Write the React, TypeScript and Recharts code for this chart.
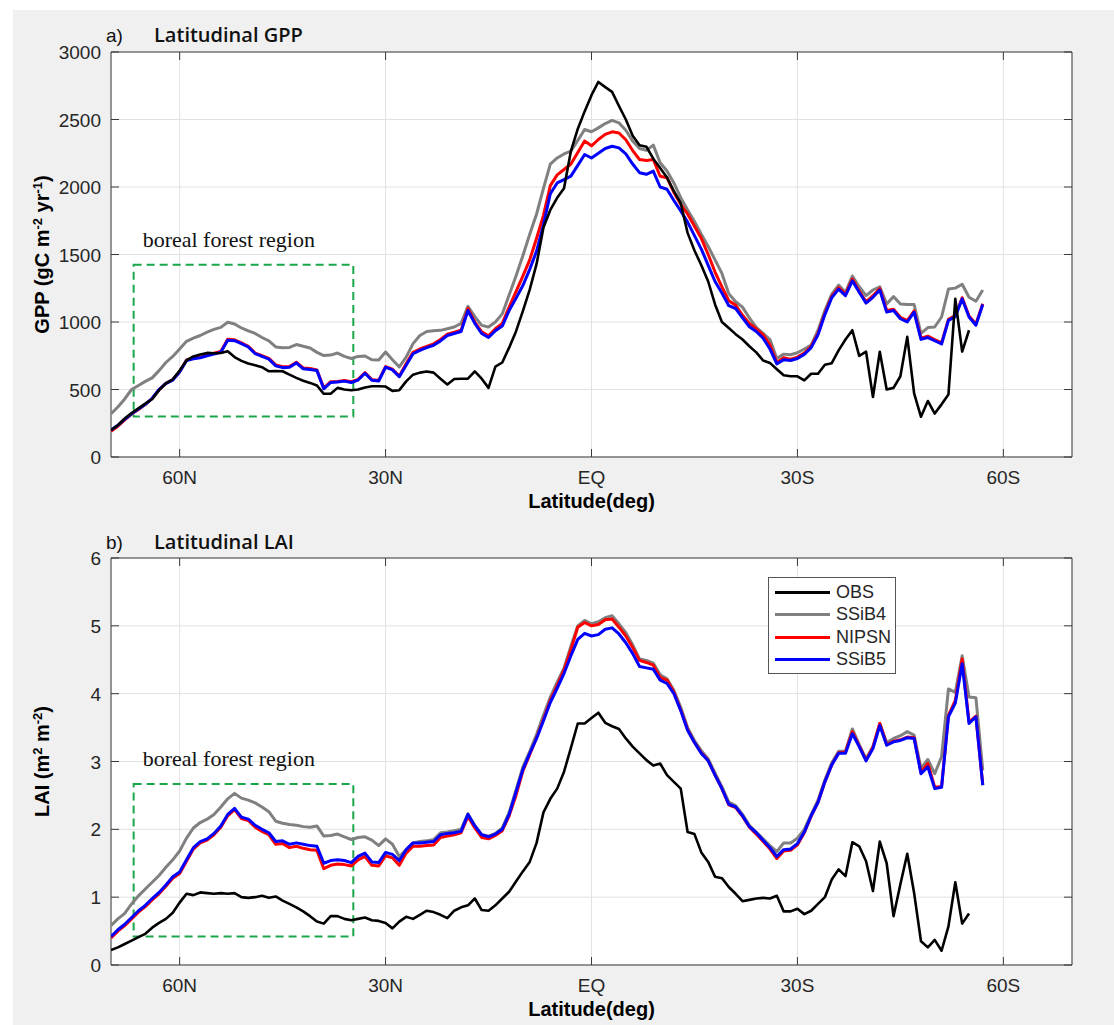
import React from 'react';
import {
  LineChart,
  Line,
  XAxis,
  YAxis,
  CartesianGrid,
  ReferenceArea,
  Legend,
} from 'recharts';

// latitude of every sample, north to south
const LAT = [
  70, 69, 68, 67, 66, 65, 64, 63, 62, 61,
  60, 59, 58, 57, 56, 55, 54, 53, 52, 51,
  50, 49, 48, 47, 46, 45, 44, 43, 42, 41,
  40, 39, 38, 37, 36, 35, 34, 33, 32, 31,
  30, 29, 28, 27, 26, 25, 24, 23, 22, 21,
  20, 19, 18, 17, 16, 15, 14, 13, 12, 11,
  10, 9, 8, 7, 6, 5, 4, 3, 2, 1,
  0, -1, -2, -3, -4, -5, -6, -7, -8, -9,
  -10, -11, -12, -13, -14, -15, -16, -17, -18, -19,
  -20, -21, -22, -23, -24, -25, -26, -27, -28, -29,
  -30, -31, -32, -33, -34, -35, -36, -37, -38, -39,
  -40, -41, -42, -43, -44, -45, -46, -47, -48, -49,
  -50, -51, -52, -53, -54, -55, -56, -57,
];

const LAT_TICKS = [60, 30, 0, -30, -60];

// ---- GPP (gC m-2 yr-1)
const GPP_OBS = [
  200, 235, 285, 325, 360, 395, 430, 495, 545, 575,
  640, 715, 745, 760, 771, 768, 770, 783, 740, 712,
  692, 680, 665, 635, 637, 635, 610, 586, 565, 549,
  530, 468, 468, 512, 500, 495, 500, 515, 524, 524,
  522, 490, 495, 560, 610, 625, 634, 625, 580, 537,
  578, 580, 580, 634, 580, 512, 670, 700, 810, 930,
  1080, 1240, 1430, 1700, 1830, 1920, 1990, 2266, 2430, 2560,
  2680, 2778, 2740, 2705, 2600, 2500, 2380, 2310, 2298, 2210,
  2140, 2070, 1970, 1880, 1660, 1530, 1420, 1300, 1130, 1000,
  955, 910, 870, 820, 775, 715, 697, 650, 605, 598,
  598, 568, 617, 617, 683, 695, 790, 870, 939, 749,
  780, 444, 780, 500, 512, 598, 890, 471, 298, 415,
  322, 390, 463, 1171, 780, 939, null, null,
];

const GPP_SSIB4 = [
  320, 370, 430, 500, 530, 560, 586, 640, 700, 745,
  800, 857, 880, 900, 925, 945, 960, 998, 985, 956,
  935, 915, 885, 860, 815, 810, 812, 833, 820, 808,
  775, 751, 755, 770, 745, 730, 745, 748, 720, 718,
  778, 720, 667, 740, 840, 900, 930, 935, 938, 950,
  963, 990, 1116, 1040, 975, 963, 1000, 1060, 1200, 1340,
  1490, 1650, 1800, 1990, 2170, 2215, 2245, 2266, 2345, 2426,
  2409, 2438, 2470, 2493, 2475, 2420, 2340, 2285, 2271, 2310,
  2180, 2118, 2030, 1921, 1830, 1745, 1650, 1560, 1460, 1360,
  1210, 1150, 1110, 1030, 960, 915, 870, 730, 762, 757,
  772, 800, 829, 939, 1085, 1207, 1273, 1220, 1341, 1261,
  1195, 1237, 1261, 1134, 1188, 1134, 1129, 1129, 915, 959,
  963, 1037, 1244, 1251, 1280, 1183, 1154, 1237,
];

const GPP_NIPSN = [
  190, 228, 275, 318, 352, 390, 432, 497, 545, 572,
  632, 718, 732, 740, 755, 768, 782, 872, 868, 846,
  820, 770, 750, 730, 682, 668, 670, 702, 660, 655,
  645, 510, 558, 560, 566, 558, 575, 625, 573, 568,
  670, 650, 600, 690, 775, 800, 820, 838, 870, 910,
  925, 940, 1100, 1000, 928, 898, 950, 990, 1110, 1225,
  1340, 1460, 1620, 1790, 2010, 2090, 2130, 2170, 2255, 2340,
  2305, 2352, 2390, 2409, 2400, 2350, 2270, 2204, 2197, 2204,
  2080, 2069, 1960, 1872, 1800, 1710, 1620, 1500, 1370, 1260,
  1158, 1125, 1050, 990, 950, 905, 830, 700, 735, 725,
  740, 770, 820, 915, 1065, 1190, 1255, 1205, 1318, 1230,
  1150, 1195, 1248, 1085, 1095, 1035, 1010, 1082, 880, 895,
  870, 845, 1020, 1048, 1180, 1045, 985, 1135,
];

const GPP_SSIB5 = [
  200, 235, 280, 320, 355, 390, 435, 500, 545, 570,
  630, 715, 728, 735, 750, 762, 776, 865, 862, 840,
  815, 765, 745, 725, 675, 662, 665, 697, 653, 648,
  640, 505, 552, 556, 562, 552, 570, 620, 568, 563,
  665, 645, 595, 680, 765, 790, 810, 827, 860, 900,
  915, 930, 1085, 990, 915, 885, 935, 970, 1085, 1175,
  1270, 1390, 1525, 1720, 1950, 2030, 2055, 2081, 2160, 2241,
  2215, 2250, 2285, 2302, 2290, 2245, 2170, 2106, 2094, 2118,
  2000, 1983, 1900, 1823, 1740, 1640, 1540, 1420, 1300, 1215,
  1121, 1100, 1030, 965, 930, 880, 800, 690, 720, 715,
  730, 760, 810, 905, 1055, 1180, 1244, 1195, 1305, 1220,
  1140, 1183, 1237, 1073, 1085, 1024, 1000, 1073, 871, 885,
  861, 837, 1012, 1040, 1171, 1037, 976, 1129,
];

// ---- LAI (m2 m-2)
const LAI_OBS = [
  0.22, 0.26, 0.31, 0.36, 0.41, 0.46, 0.55, 0.62, 0.68, 0.77,
  0.92, 1.05, 1.03, 1.07, 1.06, 1.05, 1.06, 1.05, 1.06, 1.0,
  0.99, 1.0, 1.02, 0.99, 1.01, 0.95, 0.9, 0.85, 0.79, 0.72,
  0.64, 0.61, 0.72, 0.72, 0.68, 0.66, 0.68, 0.7, 0.66, 0.65,
  0.62, 0.54, 0.64, 0.71, 0.68, 0.74, 0.8, 0.78, 0.74, 0.69,
  0.8, 0.85, 0.88, 0.98, 0.81, 0.8, 0.88, 0.98, 1.08, 1.23,
  1.38, 1.52, 1.8, 2.25, 2.45, 2.6, 2.85, 3.2, 3.56, 3.56,
  3.64, 3.72, 3.57, 3.52, 3.48, 3.34, 3.22, 3.12, 3.02, 2.94,
  2.97, 2.8, 2.7, 2.6, 1.96, 1.93, 1.66, 1.52, 1.3, 1.28,
  1.15, 1.05, 0.94, 0.96, 0.98, 0.99, 0.98, 1.02, 0.79, 0.79,
  0.83, 0.75, 0.8, 0.9, 1.0, 1.26, 1.41, 1.31, 1.81, 1.75,
  1.53, 1.09, 1.82, 1.5, 0.72, 1.19, 1.64, 1.06, 0.35, 0.26,
  0.37, 0.21, 0.57, 1.22, 0.61, 0.76, null, null,
];

const LAI_SSIB4 = [
  0.58, 0.68, 0.76, 0.9, 1.02, 1.12, 1.22, 1.32, 1.44, 1.55,
  1.68, 1.87, 2.02, 2.1, 2.15, 2.22, 2.33, 2.45, 2.53, 2.46,
  2.43, 2.39, 2.33, 2.26, 2.12, 2.09, 2.07, 2.06, 2.04, 2.03,
  2.05, 1.9, 1.91, 1.93, 1.89, 1.85, 1.88, 1.89, 1.84, 1.76,
  1.86, 1.78, 1.6, 1.7, 1.8, 1.82, 1.83, 1.85, 1.95, 1.96,
  1.98, 2.0, 2.23, 2.06, 1.92, 1.9, 1.94, 2.02, 2.25, 2.58,
  2.92, 3.15, 3.4, 3.68, 3.95, 4.17, 4.38, 4.7, 5.0, 5.08,
  5.03, 5.06, 5.12, 5.15, 5.03, 4.9, 4.72, 4.51, 4.49, 4.45,
  4.28, 4.22, 4.05, 3.8, 3.5, 3.31, 3.16, 3.04, 2.83, 2.63,
  2.4, 2.35, 2.22, 2.06, 1.96, 1.86, 1.76, 1.67, 1.8, 1.8,
  1.87, 2.0, 2.22, 2.43, 2.73, 2.98, 3.15, 3.15, 3.48, 3.25,
  3.04, 3.22, 3.56, 3.28, 3.34, 3.38, 3.44, 3.39, 2.9, 3.03,
  2.82, 3.07, 4.07, 4.02, 4.56, 3.95, 3.94, 2.87,
];

const LAI_NIPSN = [
  0.4, 0.5, 0.58, 0.68, 0.78, 0.86, 0.96, 1.05, 1.16, 1.28,
  1.35, 1.53, 1.71, 1.8, 1.84, 1.92, 2.03, 2.2, 2.29, 2.16,
  2.13, 2.03, 1.97, 1.92, 1.78, 1.79, 1.73, 1.75, 1.72, 1.7,
  1.69, 1.42, 1.47, 1.49, 1.48, 1.46, 1.55, 1.6, 1.47, 1.46,
  1.61, 1.58, 1.47, 1.65, 1.75, 1.75, 1.76, 1.77, 1.88, 1.9,
  1.92, 1.95, 2.19, 2.02, 1.88, 1.86, 1.91, 1.98, 2.2, 2.5,
  2.86, 3.1, 3.35, 3.62, 3.9, 4.12, 4.35, 4.65, 4.98, 5.05,
  5.0, 5.02, 5.09, 5.1, 4.98, 4.85, 4.68, 4.49, 4.46, 4.42,
  4.24, 4.2, 4.02, 3.76, 3.47, 3.28, 3.13, 3.01, 2.8, 2.6,
  2.36, 2.32, 2.19, 2.03, 1.93, 1.82, 1.71, 1.57, 1.68, 1.69,
  1.77, 1.95, 2.19, 2.4, 2.7, 2.95, 3.13, 3.14, 3.44, 3.23,
  3.02, 3.21, 3.56, 3.25, 3.3, 3.32, 3.36, 3.35, 2.84, 2.97,
  2.62, 2.63, 3.68, 3.9, 4.51, 3.58, 3.67, 2.66,
];

const LAI_SSIB5 = [
  0.42, 0.52, 0.6, 0.7, 0.8, 0.88, 0.98, 1.07, 1.18, 1.3,
  1.37, 1.55, 1.73, 1.82, 1.86, 1.94, 2.05, 2.22, 2.31, 2.18,
  2.15, 2.06, 2.0, 1.95, 1.82, 1.83, 1.78, 1.8, 1.78, 1.76,
  1.75, 1.5, 1.54, 1.55, 1.54, 1.51, 1.6, 1.65, 1.52, 1.51,
  1.66, 1.63, 1.54, 1.7, 1.8, 1.8, 1.81, 1.82, 1.92, 1.94,
  1.95, 1.97, 2.22, 2.05, 1.92, 1.89, 1.93, 2.0, 2.22, 2.55,
  2.88, 3.12, 3.34, 3.6, 3.87, 4.08, 4.3, 4.56, 4.8, 4.89,
  4.85, 4.87, 4.95, 4.97, 4.88, 4.75, 4.59, 4.4, 4.38, 4.36,
  4.2, 4.15, 4.0, 3.75, 3.46, 3.28, 3.12, 3.01, 2.8, 2.6,
  2.37, 2.33, 2.2, 2.04, 1.95, 1.84, 1.73, 1.6, 1.7, 1.71,
  1.79, 1.96, 2.2, 2.4, 2.7, 2.95, 3.12, 3.12, 3.41, 3.22,
  3.01, 3.19, 3.53, 3.24, 3.29, 3.31, 3.35, 3.34, 2.82, 2.92,
  2.6, 2.62, 3.66, 3.86, 4.44, 3.56, 3.66, 2.65,
];

const GPP_TICKS = [0, 500, 1000, 1500, 2000, 2500, 3000];
const LAI_TICKS = [0, 1, 2, 3, 4, 5, 6];

const SERIES = [
  { key: 'obs', name: 'OBS', color: '#000000', width: 2.6 },
  { key: 'ssib4', name: 'SSiB4', color: '#808080', width: 3 },
  { key: 'nipsn', name: 'NIPSN', color: '#ff0000', width: 3 },
  { key: 'ssib5', name: 'SSiB5', color: '#0000ff', width: 3 },
];
const DRAW_ORDER = ['ssib4', 'nipsn', 'ssib5', 'obs'];

const gppRows = LAT.map((lat, i) => ({
  lat,
  obs: GPP_OBS[i],
  ssib4: GPP_SSIB4[i],
  nipsn: GPP_NIPSN[i],
  ssib5: GPP_SSIB5[i],
}));

const laiRows = LAT.map((lat, i) => ({
  lat,
  obs: LAI_OBS[i],
  ssib4: LAI_SSIB4[i],
  nipsn: LAI_NIPSN[i],
  ssib5: LAI_SSIB5[i],
}));

const SANS = "'Liberation Sans', Arial, Helvetica, sans-serif";
const SERIF = "'Liberation Serif', 'Times New Roman', serif";
const AXIS_COLOR = '#3a3a3a';
const TEXT_COLOR = '#262626';

const PLOT_LEFT = 111;
const PLOT_RIGHT = 1072;
const PLOT_TOP = 52;
const TICK_LEN = 8;

const fmtLat = (v: number) => (v === 0 ? 'EQ' : v > 0 ? `${v}N` : `${-v}S`);

// x tick: label under the axis plus MATLAB-style inward ticks top and bottom
const renderXTick = (props: any) => {
  const { x, y, payload } = props;
  return (
    <g>
      <line x1={x} y1={y} x2={x} y2={y - TICK_LEN} stroke={AXIS_COLOR} strokeWidth={1} />
      <line x1={x} y1={PLOT_TOP} x2={x} y2={PLOT_TOP + TICK_LEN} stroke={AXIS_COLOR} strokeWidth={1} />
      <text x={x} y={y + 27} textAnchor="middle" fontFamily={SANS} fontSize={19} fill={TEXT_COLOR}>
        {fmtLat(payload.value)}
      </text>
    </g>
  );
};

const renderYTick = (props: any) => {
  const { x, y, payload } = props;
  return (
    <g>
      <line x1={x} y1={y} x2={x + TICK_LEN} y2={y} stroke={AXIS_COLOR} strokeWidth={1} />
      <line x1={PLOT_RIGHT} y1={y} x2={PLOT_RIGHT - TICK_LEN} y2={y} stroke={AXIS_COLOR} strokeWidth={1} />
      <text x={x - 10} y={y + 7} textAnchor="end" fontFamily={SANS} fontSize={19} fill={TEXT_COLOR}>
        {payload.value}
      </text>
    </g>
  );
};

const renderXLabel = (props: any) => {
  const { x, y, width } = props.viewBox;
  return (
    <text x={x + width / 2} y={y + 51} textAnchor="middle" fontFamily={SANS} fontSize={20} fontWeight="bold" fill="#000">
      Latitude(deg)
    </text>
  );
};

const sup = (s: string) => (
  <>
    <tspan dy={-7} fontSize={13}>{s}</tspan>
    <tspan dy={7}> </tspan>
  </>
);

const makeYLabel = (kind: 'gpp' | 'lai') => (props: any) => {
  const { y, height } = props.viewBox;
  const cx = 49;
  const cy = y + height / 2;
  return (
    <text
      x={cx}
      y={cy}
      transform={`rotate(-90, ${cx}, ${cy})`}
      textAnchor="middle"
      fontFamily={SANS}
      fontSize={20}
      fontWeight="bold"
      fill="#000"
    >
      {kind === 'gpp' ? (
        <>
          GPP (gC m{sup('-2')}yr<tspan dy={-7} fontSize={13}>-1</tspan>
          <tspan dy={7}>)</tspan>
        </>
      ) : (
        <>
          LAI (m{sup('2')}m<tspan dy={-7} fontSize={13}>-2</tspan>
          <tspan dy={7}>)</tspan>
        </>
      )}
    </text>
  );
};

const renderBoreal = (props: any) => {
  const { x, y } = props.viewBox;
  return (
    <text x={x + 9} y={y - 18} fontFamily={SERIF} fontSize={22} fill="#111">
      boreal forest region
    </text>
  );
};

const renderLegend = (props: any) => {
  const items = [...(props.payload || [])].sort(
    (a: any, b: any) =>
      SERIES.findIndex((s) => s.key === a.dataKey) - SERIES.findIndex((s) => s.key === b.dataKey)
  );
  return (
    <div
      style={{
        width: 128,
        height: 97,
        border: '1px solid #555',
        background: '#fff',
        paddingTop: 3,
        boxSizing: 'border-box',
        fontFamily: SANS,
        fontSize: 18,
        color: TEXT_COLOR,
      }}
    >
      {items.map((it: any) => (
        <div key={it.dataKey} style={{ display: 'flex', alignItems: 'center', height: 22.5 }}>
          <span style={{ width: 55, marginLeft: 6, marginRight: 6, borderTop: `3px solid ${it.color}` }} />
          <span>{it.value}</span>
        </div>
      ))}
    </div>
  );
};

type PanelProps = {
  rows: any[];
  height: number;
  yMax: number;
  yTicks: number[];
  kind: 'gpp' | 'lai';
  box: { x1: number; x2: number; y1: number; y2: number };
  legend?: boolean;
};

const Panel = ({ rows, height, yMax, yTicks, kind, box, legend }: PanelProps) => (
  <LineChart
    width={1114}
    height={height}
    data={rows}
    margin={{ top: PLOT_TOP, right: 1114 - PLOT_RIGHT, bottom: 0, left: 0 }}
  >
    <CartesianGrid stroke="#e2e2e2" fill="#ffffff" />
    <XAxis
      dataKey="lat"
      type="number"
      domain={[-70, 70]}
      reversed
      allowDataOverflow
      ticks={LAT_TICKS}
      interval={0}
      height={60}
      tickSize={0}
      tickMargin={0}
      axisLine={false}
      tick={renderXTick}
      label={renderXLabel}
    />
    <YAxis
      type="number"
      domain={[0, yMax]}
      ticks={yTicks}
      interval={0}
      width={PLOT_LEFT}
      tickSize={0}
      tickMargin={0}
      axisLine={false}
      tick={renderYTick}
      label={makeYLabel(kind)}
    />
    <ReferenceArea
      x1={box.x1}
      x2={box.x2}
      y1={box.y1}
      y2={box.y2}
      fill="none"
      fillOpacity={0}
      stroke="#1aa64a"
      strokeWidth={2}
      strokeDasharray="8 5"
      label={renderBoreal}
    />
    {DRAW_ORDER.map((k) => {
      const s = SERIES.find((d) => d.key === k)!;
      return (
        <Line
          key={s.key}
          type="linear"
          dataKey={s.key}
          name={s.name}
          stroke={s.color}
          strokeWidth={s.width}
          strokeLinejoin="round"
          dot={false}
          activeDot={false}
          isAnimationActive={false}
        />
      );
    })}
    <ReferenceArea x1={70} x2={-70} y1={0} y2={yMax} fill="none" fillOpacity={0} stroke={AXIS_COLOR} strokeWidth={1} />
    {legend && (
      <Legend
        layout="vertical"
        align="center"
        verticalAlign="middle"
        content={renderLegend}
        wrapperStyle={{ left: 768, top: 71, width: 128, height: 97 }}
      />
    )}
  </LineChart>
);

export default function App() {
  return (
    <div style={{ position: 'relative', width: 1114, height: 1025, background: '#ffffff', overflow: 'hidden' }}>
      <style>{'body{margin:0}'}</style>
      <div style={{ position: 'absolute', left: 13, top: 10, right: 0, bottom: 0, background: '#f0f0f0' }} />
      <div style={{ position: 'absolute', left: 0, top: 0 }}>
        <Panel
          rows={gppRows}
          height={517}
          yMax={3000}
          yTicks={GPP_TICKS}
          kind="gpp"
          box={{ x1: 66.7, x2: 34.7, y1: 300, y2: 1425 }}
        />
      </div>
      <div style={{ position: 'absolute', left: 0, top: 506 }}>
        <Panel
          rows={laiRows}
          height={519}
          yMax={6}
          yTicks={LAI_TICKS}
          kind="lai"
          box={{ x1: 66.7, x2: 34.7, y1: 0.42, y2: 2.67 }}
          legend
        />
      </div>
      <svg width={1114} height={1025} style={{ position: 'absolute', left: 0, top: 0, pointerEvents: 'none' }}>
        <text x={106} y={42} fontFamily={SANS} fontSize={19} fill="#111">a)</text>
        <text x={154} y={42} fontFamily="'Open Sans', sans-serif" fontWeight={600} fontSize={20} fill="#111">
          Latitudinal GPP
        </text>
        <text x={106} y={549} fontFamily={SANS} fontSize={19} fill="#111">b)</text>
        <text x={154} y={549} fontFamily="'Open Sans', sans-serif" fontWeight={600} fontSize={20} fill="#111">
          Latitudinal LAI
        </text>
      </svg>
    </div>
  );
}
